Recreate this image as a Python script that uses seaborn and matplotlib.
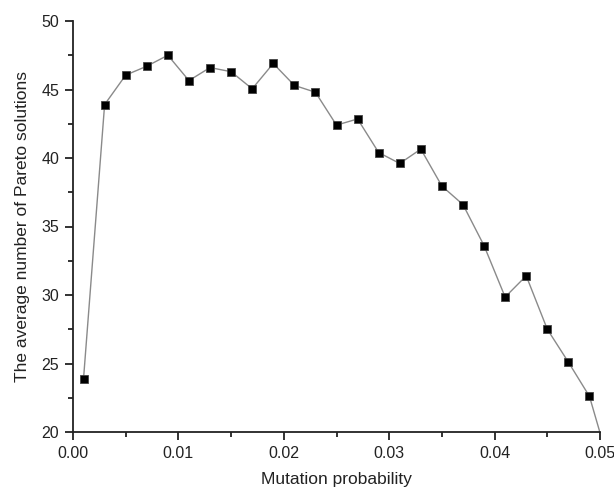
import matplotlib
matplotlib.use("Agg")
import matplotlib.pyplot as plt
from matplotlib.ticker import MultipleLocator
import seaborn as sns
import pandas as pd

mutation_prob = [0.001, 0.003, 0.005, 0.007, 0.009, 0.011, 0.013, 0.015, 0.017,
                 0.019, 0.021, 0.023, 0.025, 0.027, 0.029, 0.031, 0.033, 0.035,
                 0.037, 0.039, 0.041, 0.043, 0.045, 0.047, 0.049, 0.051]
avg_pareto = [23.9, 43.9, 46.05, 46.7, 47.5, 45.65, 46.6, 46.3, 45.05,
              46.9, 45.3, 44.8, 42.4, 42.85, 40.4, 39.6, 40.65, 37.95,
              36.6, 33.6, 29.85, 31.4, 27.5, 25.1, 22.6, 17.3]

df = pd.DataFrame({"p": mutation_prob, "n": avg_pareto})

sns.set_style("ticks")
plt.rcParams["font.family"] = ["Liberation Sans", "DejaVu Sans"]

fig = plt.figure(figsize=(6.14, 4.97), dpi=100)
ax = fig.add_axes([73/614, 1-432/497, (600-73)/614, (432-21)/497])

sns.lineplot(data=df, x="p", y="n", ax=ax, color="#8a8a8a", linewidth=1.0,
             marker="s", markersize=6, markerfacecolor="black",
             markeredgecolor="#444444", markeredgewidth=0.6)

ax.set_xlim(0, 0.05)
ax.set_ylim(20, 50)
ax.xaxis.set_major_locator(MultipleLocator(0.01))
ax.xaxis.set_minor_locator(MultipleLocator(0.005))
ax.yaxis.set_major_locator(MultipleLocator(5))
ax.yaxis.set_minor_locator(MultipleLocator(2.5))
ax.tick_params(which="major", direction="out", length=6, width=1.3, colors="#222222",
               labelsize=11.5, labelcolor="#222222", pad=4)
ax.tick_params(which="minor", direction="out", length=3.5, width=1.3, colors="#222222")
for s in ["left", "bottom"]:
    ax.spines[s].set_linewidth(1.3)
    ax.spines[s].set_color("#222222")
sns.despine(ax=ax)

ax.set_xlabel("Mutation probability", fontsize=12.5, color="#222222", labelpad=8)
ax.set_ylabel("The average number of Pareto solutions", fontsize=12.5, color="#222222", labelpad=8)

fig.savefig("out.png", dpi=100)
